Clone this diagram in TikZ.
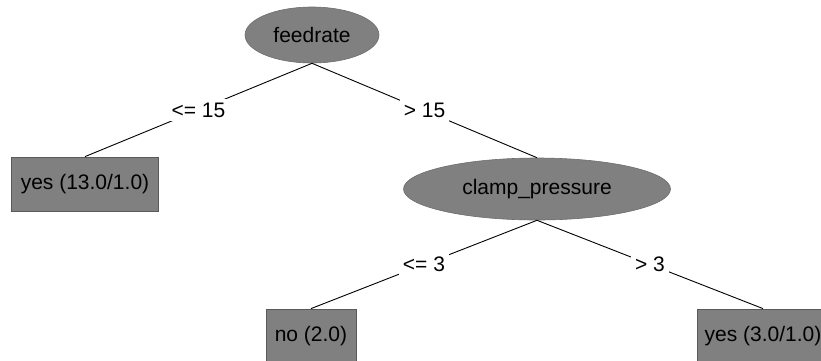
\documentclass[tikz,border=0pt]{standalone}
\usepackage{fontspec}
\setmainfont{Liberation Sans}
\usetikzlibrary{shapes.geometric}
\definecolor{nodegray}{HTML}{808080}
\definecolor{edgegray}{HTML}{5A5A5A}
\begin{document}
\begin{tikzpicture}[x=1pt,y=-1pt,
  font=\fontsize{21}{25}\selectfont,
  split/.style={ellipse, fill=nodegray, draw=nodegray!85!black, line width=0.6pt,
    inner sep=0pt, text=black},
  leaf/.style={rectangle, fill=nodegray, draw=edgegray, line width=0.8pt,
    inner sep=0pt, minimum height=54, text=black},
  branch/.style={draw=black, line width=0.9pt},
  cond/.style={fill=white, inner sep=4pt, midway, text=black}]
\useasboundingbox (0,0) rectangle (821,360);

% decision nodes
\node[split, minimum width=134, minimum height=56] (feed) at (312,35) {feedrate};
\node[split, minimum width=267, minimum height=62] (clamp) at (537,189) {clamp\_pressure};

% leaves
\node[leaf, minimum width=147] (yesA) at (85,184) {yes (13.0/1.0)};
\node[leaf, minimum width=90] (noB) at (311,336) {no (2.0)};
\node[leaf, minimum width=132] (yesC) at (763,336) {yes (3.0/1.0)};

% branches with their conditions
\path[branch] (feed.south) -- node[cond] {<= 15} (yesA.north);
\path[branch] (feed.south) -- node[cond] {> 15} (clamp.north);
\path[branch] (clamp.south) -- node[cond] {<= 3} (noB.north);
\path[branch] (clamp.south) -- node[cond] {> 3} (yesC.north);
\end{tikzpicture}
\end{document}
